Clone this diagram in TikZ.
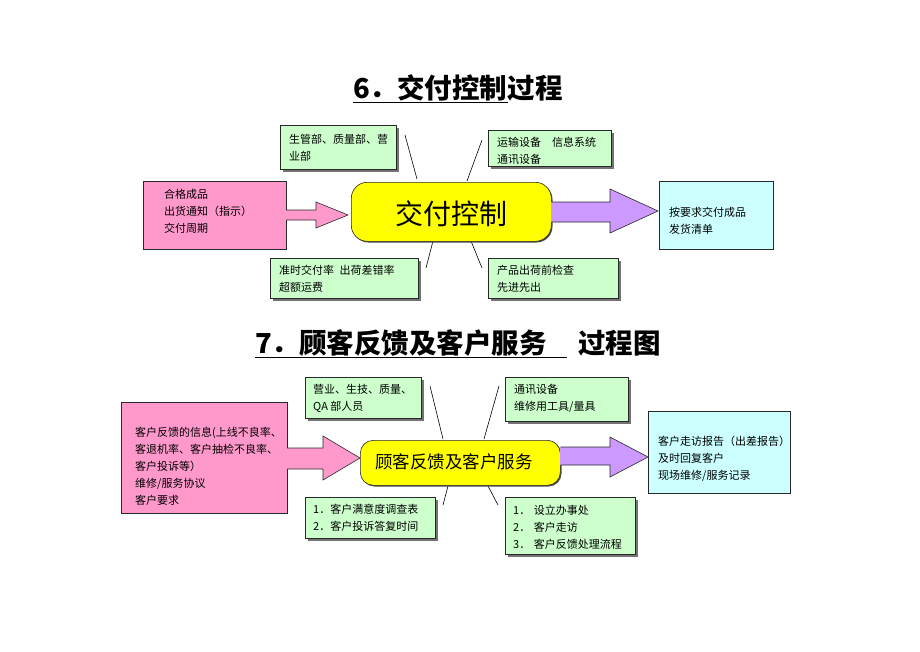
\documentclass[tikz,border=0pt]{standalone}
\usepackage{fontspec}
\setmainfont{Noto Sans CJK SC}
\usetikzlibrary{shadows}
\definecolor{gfill}{RGB}{204,255,204}
\definecolor{pfill}{RGB}{255,153,204}
\definecolor{cfill}{RGB}{204,255,255}
\definecolor{vfill}{RGB}{204,153,255}
\definecolor{yfill}{RGB}{255,255,0}
\definecolor{edge}{RGB}{40,40,40}
\tikzset{
  boxbase/.style={draw=edge, line width=0.6pt, anchor=north west, inner sep=0pt},
  gbox/.style={boxbase, fill=gfill, drop shadow={shadow xshift=2.5pt, shadow yshift=-2.5pt, fill=black!55, opacity=1}},
  pbox/.style={boxbase, fill=pfill},
  cbox/.style={boxbase, fill=cfill},
  ybox/.style={boxbase, fill=yfill, rounded corners=16pt, drop shadow={shadow xshift=1.2pt, shadow yshift=-1.2pt, fill=black!70, opacity=1}},
  txt/.style={anchor=west, align=left, inner sep=0pt, font=\fontsize{11}{17}\selectfont},
  ttl/.style={anchor=base west, inner sep=0pt, font=\fontsize{27.5}{30}\selectfont\bfseries},
  uline/.style={line width=1pt},
  thinline/.style={draw=black, line width=0.6pt},
  pfillst/.style={fill=pfill},
  vfillst/.style={fill=vfill},
  arrowedge/.style={draw=edge, line width=0.6pt, line join=miter},
}
\begin{document}
\begin{tikzpicture}[x=1pt,y=-1pt]
\useasboundingbox[fill=white] (0,0) rectangle (920,651);

% ---------- Section 6 ----------
\node[ttl] (t6a) at (353,98) {6．交付控制};
\node[ttl] (t6b) at (t6a.base east) {过程};
\draw[uline] ([yshift=-4pt]t6a.base west) -- ([yshift=-4pt]t6a.base east);

% connector lines
\draw[thinline] (405,135) coordinate (l61a) -- (417,179) coordinate (l61b);
\draw[thinline] (482,140) coordinate (l62a) -- (467,181) coordinate (l62b);
\draw[thinline] (433,241) coordinate (l63a) -- (426,268) coordinate (l63b);
\draw[thinline] (471,241) coordinate (l64a) -- (482,268) coordinate (l64b);

\node[gbox, minimum width=116pt, minimum height=44pt] (g61) at (280,125) {};
\node[txt] (g61t) at (289,148) {生管部、质量部、营\\业部};

\node[gbox, minimum width=123pt, minimum height=36pt] (g62) at (488,130) {};
\node[txt] (g62t) at (497,151) {运输设备\quad 信息系统\\通讯设备};

\node[gbox, minimum width=148pt, minimum height=40pt] (g63) at (270,258) {};
\node[txt] (g63t) at (279,278.5) {准时交付率\enspace 出荷差错率\\超额运费};

\node[gbox, minimum width=130pt, minimum height=40pt] (g64) at (488,258) {};
\node[txt] (g64t) at (497,278.5) {产品出荷前检查\\先进先出};

\node[pbox, minimum width=143pt, minimum height=68pt] (p6) at (143,181) {};
\node[txt] (p6t) at (164,211) {合格成品\\出货通知（指示）\\交付周期};

\node[cbox, minimum width=114pt, minimum height=68pt] (c6) at (659,181) {};
\node[txt] (c6t) at (669,220.5) {按要求交付成品\\发货清单};

% pink arrow
\fill[pfillst] (285,210) -- (316,210) -- (316,202) -- (348,215) -- (316,228) -- (316,220) -- (285,220) -- cycle;
\draw[arrowedge] (286,210) -- (316,210) -- (316,202) -- (348,215) -- (316,228) -- (316,220) -- (286,220);

\node[ybox, minimum width=200pt, minimum height=59pt] (y6) at (351,182) {};
\node[inner sep=0pt, font=\fontsize{28}{30}\selectfont] (y6t) at (451,214) {交付控制};

% purple arrow
\fill[vfillst] (551,202) -- (610,202) -- (610,189) -- (658,211) -- (610,233) -- (610,222) -- (551,222) -- cycle;
\draw[arrowedge] (551.5,202) -- (610,202) -- (610,189) -- (658,211) -- (610,233) -- (610,222) -- (551.5,222);

% ---------- Section 7 ----------
\node[ttl] (t7a) at (255,353) {7．顾客反馈及客户服务};
\node[ttl] (t7b) at (578,353) {过程图};
\draw[uline] ([yshift=-4pt]t7a.base west) -- ++(312,0) coordinate (u7end);

\draw[thinline] (430,386) coordinate (l71a) -- (443,439) coordinate (l71b);
\draw[thinline] (499,386) coordinate (l72a) -- (484,439) coordinate (l72b);
\draw[thinline] (448,486) coordinate (l73a) -- (443,505) coordinate (l73b);
\draw[thinline] (488,486) coordinate (l74a) -- (498,505) coordinate (l74b);

\node[gbox, minimum width=116pt, minimum height=41pt] (g71) at (305,377) {};
\node[txt] (g71t) at (313,398) {营业、生技、质量、\\QA 部人员};

\node[gbox, minimum width=123pt, minimum height=44pt] (g72) at (505,377) {};
\node[txt] (g72t) at (514,398) {通讯设备\\维修用工具/量具};

\node[gbox, minimum width=130pt, minimum height=41pt] (g73) at (305,497) {};
\node[txt] (g73t) at (313,518) {1．客户满意度调查表\\2．客户投诉答复时间};

\node[gbox, minimum width=130pt, minimum height=57pt] (g74) at (505,497) {};
\node[txt] (g74t) at (513,527) {1．\,\,设立办事处\\2．\,\,客户走访\\3．\,\,客户反馈处理流程};

\node[pbox, minimum width=166pt, minimum height=111pt] (p7) at (121,402) {};
\node[txt] (p7t) at (135,466) {客户反馈的信息(上线不良率、\\客退机率、客户抽检不良率、\\客户投诉等）\\维修/服务协议\\客户要求};

\node[cbox, minimum width=142pt, minimum height=82pt] (c7) at (648,411) {};
\node[txt] (c7t) at (658,458.5) {客户走访报告（出差报告）\\及时回复客户\\现场维修/服务记录};

\fill[pfillst] (286,448) -- (323,448) -- (323,436) -- (360,458) -- (323,480) -- (323,469) -- (286,469) -- cycle;
\draw[arrowedge] (287,448) -- (323,448) -- (323,436) -- (360,458) -- (323,480) -- (323,469) -- (287,469);

\node[ybox, rounded corners=13pt, minimum width=200pt, minimum height=45pt] (y7) at (360,440) {};
\node[inner sep=0pt, font=\fontsize{17.5}{20}\selectfont] (y7t) at (454,462) {顾客反馈及客户服务};

\fill[vfillst] (560,447) -- (610,447) -- (610,437) -- (648,457) -- (610,477) -- (610,465) -- (560,465) -- cycle;
\draw[arrowedge] (560.5,447) -- (610,447) -- (610,437) -- (648,457) -- (610,477) -- (610,465) -- (560.5,465);
\end{tikzpicture}
\end{document}
